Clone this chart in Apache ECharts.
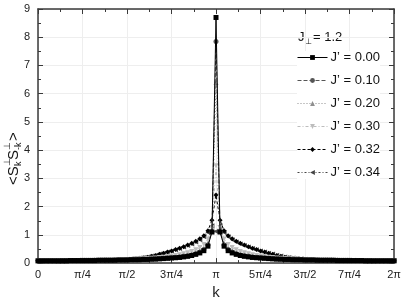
<!DOCTYPE html>
<html><head><meta charset="utf-8">
<script src="https://cdn.jsdelivr.net/npm/echarts@6/dist/echarts.min.js"></script>
<style>html,body{margin:0;padding:0;background:#fff}#c{width:407px;height:305px}</style>
</head><body><div id="c"></div>
<script>
// k grid: n = 0..88, k = 2*pi*n/88 (values in units of pi)
var N = 88;
var xTickLabels = ['0','π/4','π/2','3π/4','π','5π/4','3π/2','7π/4','2π'];
var seriesNames = ["J’ = 0.00","J’ = 0.10","J’ = 0.20","J’ = 0.30","J’ = 0.32","J’ = 0.34"];
var s000 = [0.08,0.08,0.08,0.08,0.08,0.08,0.08,0.08,0.09,0.09,0.09,0.09,0.09,0.09,0.09,0.10,0.10,0.10,0.10,0.10,0.11,0.11,0.11,0.12,0.12,0.12,0.13,0.13,0.14,0.14,0.15,0.16,0.17,0.18,0.19,0.20,0.22,0.24,0.27,0.31,0.36,0.44,0.60,1.10,8.70,1.10,0.60,0.44,0.36,0.31,0.27,0.24,0.22,0.20,0.19,0.18,0.17,0.16,0.15,0.14,0.14,0.13,0.13,0.12,0.12,0.12,0.11,0.11,0.11,0.10,0.10,0.10,0.10,0.10,0.09,0.09,0.09,0.09,0.09,0.09,0.09,0.08,0.08,0.08,0.08,0.08,0.08,0.08,0.08];
var s010 = [0.08,0.08,0.08,0.08,0.08,0.08,0.09,0.09,0.09,0.09,0.09,0.09,0.09,0.09,0.10,0.10,0.10,0.10,0.10,0.11,0.11,0.11,0.12,0.12,0.12,0.13,0.13,0.14,0.14,0.15,0.16,0.17,0.18,0.19,0.20,0.22,0.24,0.26,0.29,0.33,0.39,0.48,0.64,1.12,7.85,1.12,0.64,0.48,0.39,0.33,0.29,0.26,0.24,0.22,0.20,0.19,0.18,0.17,0.16,0.15,0.14,0.14,0.13,0.13,0.12,0.12,0.12,0.11,0.11,0.11,0.10,0.10,0.10,0.10,0.10,0.09,0.09,0.09,0.09,0.09,0.09,0.09,0.09,0.08,0.08,0.08,0.08,0.08,0.08];
var s020 = [0.08,0.08,0.08,0.08,0.08,0.09,0.09,0.09,0.09,0.09,0.09,0.09,0.10,0.10,0.10,0.10,0.10,0.11,0.11,0.11,0.12,0.12,0.12,0.13,0.13,0.14,0.14,0.15,0.16,0.17,0.18,0.19,0.20,0.21,0.22,0.24,0.26,0.29,0.32,0.37,0.43,0.53,0.70,1.16,6.40,1.16,0.70,0.53,0.43,0.37,0.32,0.29,0.26,0.24,0.22,0.21,0.20,0.19,0.18,0.17,0.16,0.15,0.14,0.14,0.13,0.13,0.12,0.12,0.12,0.11,0.11,0.11,0.10,0.10,0.10,0.10,0.10,0.09,0.09,0.09,0.09,0.09,0.09,0.09,0.08,0.08,0.08,0.08,0.08];
var s030 = [0.08,0.08,0.08,0.08,0.09,0.09,0.09,0.09,0.09,0.09,0.09,0.10,0.10,0.10,0.10,0.10,0.11,0.11,0.11,0.12,0.12,0.12,0.13,0.13,0.14,0.15,0.15,0.16,0.17,0.18,0.20,0.21,0.23,0.25,0.27,0.30,0.33,0.37,0.41,0.47,0.55,0.66,0.85,1.25,3.45,1.25,0.85,0.66,0.55,0.47,0.41,0.37,0.33,0.30,0.27,0.25,0.23,0.21,0.20,0.18,0.17,0.16,0.15,0.15,0.14,0.13,0.13,0.12,0.12,0.12,0.11,0.11,0.11,0.10,0.10,0.10,0.10,0.10,0.09,0.09,0.09,0.09,0.09,0.09,0.09,0.08,0.08,0.08,0.08];
var s032 = [0.09,0.09,0.09,0.09,0.09,0.09,0.09,0.09,0.09,0.09,0.09,0.10,0.10,0.10,0.10,0.10,0.10,0.11,0.11,0.11,0.12,0.12,0.13,0.14,0.15,0.17,0.19,0.21,0.24,0.27,0.31,0.35,0.39,0.43,0.48,0.53,0.58,0.64,0.70,0.77,0.86,0.97,1.15,1.52,2.41,1.52,1.15,0.97,0.86,0.77,0.70,0.64,0.58,0.53,0.48,0.43,0.39,0.35,0.31,0.27,0.24,0.21,0.19,0.17,0.15,0.14,0.13,0.12,0.12,0.11,0.11,0.11,0.10,0.10,0.10,0.10,0.10,0.10,0.09,0.09,0.09,0.09,0.09,0.09,0.09,0.09,0.09,0.09,0.09];
var s034 = [0.09,0.09,0.09,0.09,0.09,0.09,0.09,0.09,0.09,0.09,0.10,0.10,0.10,0.10,0.10,0.10,0.11,0.11,0.11,0.12,0.12,0.13,0.14,0.15,0.16,0.18,0.20,0.22,0.25,0.28,0.32,0.35,0.39,0.43,0.47,0.52,0.57,0.62,0.68,0.75,0.83,0.93,1.08,1.32,1.12,1.32,1.08,0.93,0.83,0.75,0.68,0.62,0.57,0.52,0.47,0.43,0.39,0.35,0.32,0.28,0.25,0.22,0.20,0.18,0.16,0.15,0.14,0.13,0.12,0.12,0.11,0.11,0.11,0.10,0.10,0.10,0.10,0.10,0.10,0.09,0.09,0.09,0.09,0.09,0.09,0.09,0.09,0.09,0.09];

var allValues = [s000,s010,s020,s030,s032,s034];
var colors = ['#000000','#555555','#8f8f8f','#bdbdbd','#000000','#444444'];
var symbols = ['rect','circle','triangle','triangle','diamond','triangle'];
var rotates = [0,0,0,180,0,90];
var dashes = ['solid',[4,2],[1,2],[3,2,1,2],[3,2],[2,2,1,2]];

var series = allValues.map(function(vals, i){
  return {
    name: seriesNames[i], type: 'line',
    data: vals.map(function(v, n){ return [2*n/N, v]; }),
    symbol: symbols[i], symbolRotate: rotates[i], symbolSize: 5,
    showSymbol: true, showAllSymbol: true,
    itemStyle: {color: colors[i]},
    lineStyle: {color: colors[i], width: 1, type: dashes[i]},
    z: 10 - i, animation: false
  };
});

var FF = '"Liberation Sans", Arial, sans-serif';
var chart = echarts.init(document.getElementById('c'), null, {renderer:'canvas'});
var axisLineStyle = {color:'#3a3a3a', width:1.5};
chart.setOption({
  animation: false,
  backgroundColor: '#fff',
  grid: {left:38, right:13, top:9, bottom:35},
  xAxis: [{
    type:'value', min:0, max:2, interval:0.25,
    axisLine:{show:true, onZero:false, lineStyle:axisLineStyle},
    axisTick:{show:true, inside:true, length:5, lineStyle:{color:'#3a3a3a'}},
    minorTick:{show:true, splitNumber:2, length:3, lineStyle:{color:'#3a3a3a'}},
    splitLine:{show:true, lineStyle:{color:'#eeeeee', width:1}},
    axisLabel:{fontFamily:FF, fontSize:11, color:'#222', margin:6,
      formatter:function(v){ var i=Math.round(v/0.25); return xTickLabels[i]; }},
    name:'k', nameLocation:'middle', nameGap:19,
    nameTextStyle:{fontFamily:FF, fontSize:15, color:'#222'}
  },{
    type:'value', min:0, max:2, interval:0.25, position:'top',
    axisLine:{show:true, onZero:false, lineStyle:axisLineStyle},
    axisTick:{show:true, inside:true, length:5, lineStyle:{color:'#3a3a3a'}},
    minorTick:{show:true, splitNumber:2, length:3, lineStyle:{color:'#3a3a3a'}},
    splitLine:{show:false}, axisLabel:{show:false}
  }],
  yAxis: [{
    type:'value', min:0, max:9, interval:1,
    axisLine:{show:true, onZero:false, lineStyle:axisLineStyle},
    axisTick:{show:true, inside:true, length:5, lineStyle:{color:'#3a3a3a'}},
    minorTick:{show:true, splitNumber:2, length:3, lineStyle:{color:'#3a3a3a'}},
    splitLine:{show:true, lineStyle:{color:'#eeeeee', width:1}},
    axisLabel:{fontFamily:FF, fontSize:11, color:'#222', margin:8}
  },{
    type:'value', min:0, max:9, interval:1, position:'right',
    axisLine:{show:true, onZero:false, lineStyle:axisLineStyle},
    axisTick:{show:true, inside:true, length:5, lineStyle:{color:'#3a3a3a'}},
    minorTick:{show:true, splitNumber:2, length:3, lineStyle:{color:'#3a3a3a'}},
    splitLine:{show:false}, axisLabel:{show:false}
  }],
  legend: {
    orient:'vertical', left:297, top:51, itemWidth:30, itemHeight:6, itemGap:10,
    backgroundColor:'#fff', padding:[0,0,0,0],
    lineStyle:{width:1},
    itemStyle:{borderWidth:0},
    textStyle:{fontFamily:FF, fontSize:13, color:'#111', padding:[0,0,0,-2]},
    data: seriesNames
  },
  graphic: [
    {type:'group', x:298, y:37, children:[
      {type:'text', x:0, y:0, style:{text:'J', font:'13px '+FF, fill:'#111', textVerticalAlign:'middle'}},
      {type:'text', x:7, y:5, style:{text:'⊥', font:'8px '+FF, fill:'#111', textVerticalAlign:'middle'}},
      {type:'text', x:15, y:0, style:{text:'= 1.2', font:'13px '+FF, fill:'#111', textVerticalAlign:'middle'}}
    ]},
    {type:'group', x:14, y:185, rotation:Math.PI/2, children:[
      {type:'text', x:0, y:0, style:{text:'<S', font:'15px '+FF, fill:'#111', textVerticalAlign:'middle'}},
      {type:'text', x:19, y:-6, style:{text:'⊥', font:'9px '+FF, fill:'#111', textVerticalAlign:'middle'}},
      {type:'text', x:19, y:5, style:{text:'k', font:'9px '+FF, fill:'#111', textVerticalAlign:'middle'}},
      {type:'text', x:25, y:0, style:{text:'S', font:'15px '+FF, fill:'#111', textVerticalAlign:'middle'}},
      {type:'text', x:35, y:-6, style:{text:'⊥', font:'9px '+FF, fill:'#111', textVerticalAlign:'middle'}},
      {type:'text', x:35, y:5, style:{text:'-k', font:'9px '+FF, fill:'#111', textVerticalAlign:'middle'}},
      {type:'text', x:44, y:0, style:{text:'>', font:'15px '+FF, fill:'#111', textVerticalAlign:'middle'}}
    ]}
  ],
  series: series
});
</script></body></html>
